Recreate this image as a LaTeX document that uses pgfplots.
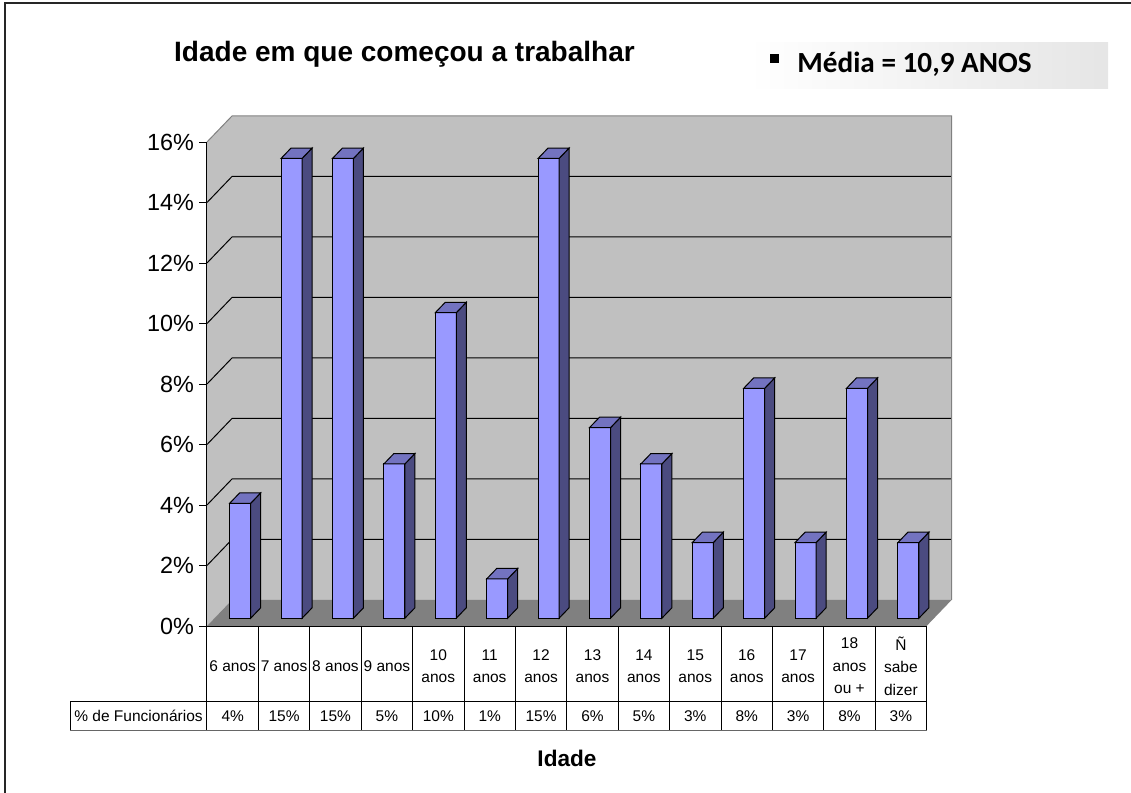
\documentclass[border=0pt]{standalone}
\usepackage{pgfplots}
\pgfplotsset{compat=1.18}
\usepackage{pgfplotstable}
\usepackage{fontspec}
\setmainfont{Liberation Sans}
\newfontfamily\calibri{Carlito}
\definecolor{barfront}{HTML}{9999FF}
\definecolor{bartop}{HTML}{7373C0}
\definecolor{barside}{HTML}{4B4B80}
\definecolor{wall}{HTML}{C0C0C0}
\definecolor{floorc}{HTML}{808080}

\pgfplotstableread{
x v
0 3.8
1 15.2
2 15.2
3 5.1
4 10.1
5 1.3
6 15.2
7 6.3
8 5.1
9 2.5
10 7.6
11 2.5
12 7.6
13 2.5
}\data

\begin{document}
\begin{tikzpicture}
\useasboundingbox (0,0) rectangle (565.5pt,-396.5pt);
\draw[line width=1pt, black!85] (2.5pt,-396.5pt) -- (2.5pt,-1.6pt) -- (565.5pt,-1.6pt);
% legend box
\shade[left color=white, right color=black!10] (374pt,-21pt) rectangle (554pt,-44pt);
\fill (385pt,-27pt) rectangle (389.5pt,-31.5pt);
\node[anchor=base west, inner sep=0pt, font=\calibri\bfseries\fontsize{14.6}{17}\selectfont] at (398.5pt,-36pt) {Média = 10,9 ANOS};
% title
\node[anchor=base, inner sep=0pt, font=\bfseries\fontsize{14}{17}\selectfont] at (202.25pt,-30.5pt) {Idade em que começou a trabalhar};
\begin{axis}[
  at={(103.5pt,-313pt)}, anchor=south west,
  x=25.7pt, y=15.125pt,
  xmin=-0.5, xmax=13.5, ymin=0, ymax=16,
  disabledatascaling,
  clip=false,
  axis on top,
  axis x line*=bottom, axis y line*=left,
  axis line style={black, line width=0.5pt},
  ytick={0,2,...,16},
  yticklabels={0\%,2\%,4\%,6\%,8\%,10\%,12\%,14\%,16\%},
  yticklabel style={font=\fontsize{11.7}{13}\selectfont, xshift=1pt},
  tick align=outside, major tick length=4pt,
  ytick style={black, line width=0.5pt},
  xtick={0,...,13},
  xticklabels={6 anos,7 anos,8 anos,9 anos,10\\anos,11\\anos,12\\anos,13\\anos,14\\anos,15\\anos,16\\anos,17\\anos,18\\anos\\ou +,Ñ\\sabe\\dizer},
  xticklabel style={font=\fontsize{7.75}{11.25}\selectfont, align=center, anchor=center, yshift=-16pt},
  xtick style={draw=none},
]
% walls and floor
\fill[wall] (-0.5,0) -- (-0.5,16) -- (-0.014,16.86) -- (-0.014,0.86) -- cycle;
\fill[wall] (-0.014,0.86) rectangle (13.986,16.86);
\fill[floorc] (-0.5,0) -- (13.5,0) -- (13.986,0.86) -- (-0.014,0.86) -- cycle;
\pgfplotsinvokeforeach{2,4,...,14}{
  \draw[black, line width=0.5pt] (-0.5,#1) -- (-0.014,{#1+0.86}) -- (13.986,{#1+0.86});
}
\draw[floorc, line width=0.5pt] (-0.5,16) -- (-0.014,16.86) -- (13.986,16.86) -- (13.986,0.86);
% table lines
\pgfplotsinvokeforeach{0,...,14}{
  \draw[black, line width=0.5pt] ({#1-0.5},0) -- ({#1-0.5},-3.438);
}
\draw[black, line width=0.5pt] (-3.165,-2.512) -- (13.5,-2.512);
\draw[black!60, line width=0.5pt] (-3.165,-3.438) -- (13.5,-3.438);
\draw[black, line width=0.5pt] (-3.165,-2.512) -- (-3.165,-3.438);
% bars
\addplot[ybar, bar width=10.5pt, bar shift=0pt, xshift=3.75pt, yshift=3.9pt,
  fill=barfront, draw=black, line width=0.5pt] table[x=x,y=v]{\data};
\addplot[scatter, only marks, mark=*, mark size=0pt, mark options={draw=none,fill=none},
  xshift=3.75pt, yshift=3.9pt,
  visualization depends on={\thisrow{v} \as \val},
  scatter/@pre marker code/.code={%
    \filldraw[fill=barside, draw=black, line width=0.5pt] (5.25pt,0pt) -- (10.25pt,5.2pt) -- (10.25pt,{5.2pt-\val*15.125pt}) -- (5.25pt,{-\val*15.125pt}) -- cycle;
    \filldraw[fill=bartop, draw=black, line width=0.5pt] (-5.25pt,0pt) -- (5.25pt,0pt) -- (10.25pt,5.2pt) -- (-0.25pt,5.2pt) -- cycle;
  },
  scatter/@post marker code/.code={},
] table[x=x,y=v]{\data};
\end{axis}
% value row
\node[font=\fontsize{7.75}{9}\selectfont] at (69.25pt,-358pt) {\% de Funcionários};
\foreach \i/\t in {0/4,1/15,2/15,3/5,4/10,5/1,6/15,7/6,8/5,9/3,10/8,11/3,12/8,13/3}
  \node[font=\fontsize{7.75}{9}\selectfont] at ({103.5pt+25.7pt*(\i+0.5)},-358pt) {\t\%};
% x label
\node[anchor=base, inner sep=0pt, font=\bfseries\fontsize{11.3}{13}\selectfont] at (283.5pt,-383pt) {Idade};
\end{tikzpicture}
\end{document}
